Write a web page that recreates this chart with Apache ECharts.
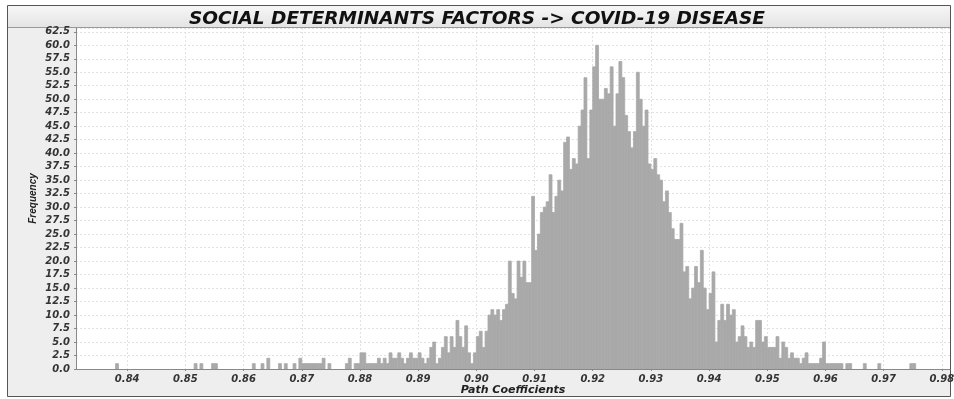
<!DOCTYPE html>
<html><head><meta charset="utf-8">
<script src="https://cdn.jsdelivr.net/npm/echarts@6/dist/echarts.min.js"></script>
<style>html,body{margin:0;padding:0;background:#fff}#c{width:954px;height:399px}</style>
</head><body><div id="c"></div>
<script>
const titleText = 'SOCIAL DETERMINANTS FACTORS -> COVID-19 DISEASE';
const xName = 'Path Coefficients';
const yName = 'Frequency';
const binStart = 0.838;
const binWidth = 0.0005;
const counts = [
  1,0,0,0,0,0,0,0,0,0,
  0,0,0,0,0,0,0,0,0,0,
  0,0,0,0,0,0,0,1,0,1,
  0,0,0,1,1,0,0,0,0,0,
  0,0,0,0,0,0,0,1,0,0,
  1,0,2,0,0,0,1,0,1,0,
  0,1,0,2,1,1,1,1,1,1,
  1,2,0,1,0,0,0,0,0,1,
  2,0,1,1,3,3,1,1,1,1,
  2,1,2,1,3,2,2,3,2,1,
  2,3,2,2,3,2,1,2,4,5,
  1,2,4,6,3,6,4,9,6,4,
  8,3,1,3,6,7,4,7,10,11,
  10,11,9,11,12,20,14,13,20,17,
  20,16,16,32,22,25,29,30,31,36,
  29,32,35,33,42,43,37,39,38,45,
  48,54,39,48,56,60,50,50,52,51,
  56,45,51,57,54,47,44,41,44,55,
  50,45,48,38,37,39,36,35,31,33,
  29,26,24,24,27,18,19,13,15,19,
  16,22,15,11,14,18,5,9,12,9,
  12,10,11,5,6,8,6,4,5,4,
  9,9,5,6,4,4,4,6,2,5,
  4,2,3,2,2,1,2,3,1,1,
  1,1,2,5,1,1,1,1,1,1,
  0,1,1,0,0,0,0,1,0,0,
  0,0,1,0,0,0,0,0,0,0,
  0,0,0,1,1
];
const xTickValues = [0.84,0.85,0.86,0.87,0.88,0.89,0.90,0.91,0.92,0.93,0.94,0.95,0.96,0.97,0.98];
const xMin = 0.8312, xMax = 0.9814;
const yMin = 0, yMax = 63.2, yStep = 2.5;

const barData = [];
counts.forEach((c, k) => {
  if (c > 0) barData.push([binStart + k * binWidth, binStart + (k + 1) * binWidth, c]);
});

const FONT = 'DejaVu Sans';
const chart = echarts.init(document.getElementById('c'), null, {renderer: 'canvas'});
chart.setOption({
  animation: false,
  backgroundColor: '#ffffff',
  graphic: [
    {type: 'rect', z: -10, shape: {x: 7.5, y: 5.5, width: 943, height: 391},
     style: {fill: '#eeeeee', stroke: '#555', lineWidth: 1}},
    {type: 'rect', z: -9, shape: {x: 8, y: 6, width: 942, height: 21},
     style: {fill: new echarts.graphic.LinearGradient(0, 0, 0, 1, [
       {offset: 0, color: '#f6f6f6'}, {offset: 1, color: '#e4e4e4'}]), lineWidth: 0}},
    {type: 'line', z: -8, shape: {x1: 8, y1: 27.5, x2: 950, y2: 27.5},
     style: {stroke: '#9a9a9a', lineWidth: 1}}
  ],
  title: {
    text: titleText, left: 'center', top: 5,
    textStyle: {fontFamily: FONT, fontSize: 18.5, fontWeight: 'bold', fontStyle: 'italic', color: '#111'}
  },
  grid: {left: 76, right: 4, top: 28, bottom: 30, outerBoundsMode: 'none', containLabel: false,
    show: true, backgroundColor: '#ffffff', borderWidth: 0},
  xAxis: {
    type: 'value', min: xMin, max: xMax,
    name: xName, nameLocation: 'middle', nameGap: 16, nameMoveOverlap: false,
    nameTextStyle: {fontFamily: FONT, fontSize: 11, fontWeight: 'bold', fontStyle: 'italic', color: '#222'},
    axisLine: {onZero: false, lineStyle: {color: '#888', width: 1}},
    axisTick: {show: true, length: 2, customValues: xTickValues, lineStyle: {color: '#888'}},
    axisLabel: {customValues: xTickValues, margin: 5, formatter: v => v.toFixed(2), hideOverlap: false,
      fontFamily: FONT, fontSize: 10, fontWeight: 'bold', fontStyle: 'italic', color: '#333'},
    splitLine: {show: true, lineStyle: {color: '#e2e2e2', type: [2, 2], width: 1}}
  },
  yAxis: {
    type: 'value', min: yMin, max: yMax, interval: yStep,
    name: yName, nameLocation: 'middle', nameGap: 38, nameRotate: 90, nameMoveOverlap: false,
    nameTextStyle: {fontFamily: 'Liberation Sans', fontSize: 10, fontWeight: 'bold', fontStyle: 'italic', color: '#222'},
    axisLine: {show: true, lineStyle: {color: '#888', width: 1}},
    axisTick: {show: true, length: 2, lineStyle: {color: '#888'}},
    axisLabel: {margin: 6, showMaxLabel: false, formatter: v => v.toFixed(1),
      fontFamily: FONT, fontSize: 10, fontWeight: 'bold', fontStyle: 'italic', color: '#333'},
    splitLine: {show: true, lineStyle: {color: '#e2e2e2', type: [2, 2], width: 1}}
  },
  series: [{
    type: 'custom',
    clip: true,
    renderItem: (params, api) => {
      const p0 = api.coord([api.value(0), api.value(2)]);
      const p1 = api.coord([api.value(1), 0]);
      return {type: 'rect', shape: {x: p0[0], y: p0[1], width: p1[0] - p0[0], height: p1[1] - p0[1]},
        style: {fill: '#a9a9a9', stroke: '#a9a9a9', lineWidth: 0.8}};
    },
    encode: {x: [0, 1], y: 2},
    data: barData
  }]
});
</script></body></html>
